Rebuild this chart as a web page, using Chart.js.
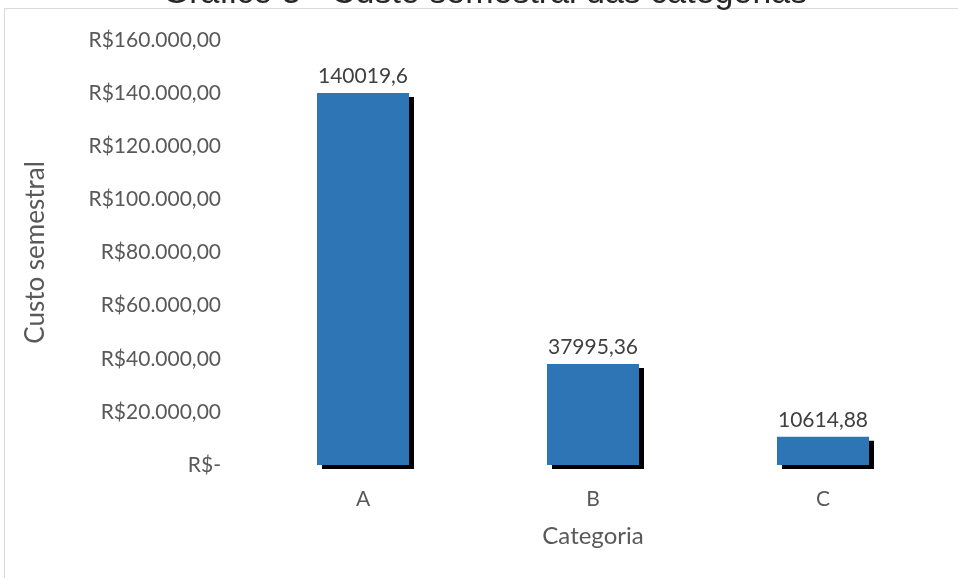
<!DOCTYPE html>
<html>
<head>
<meta charset="utf-8">
<script src="https://cdn.jsdelivr.net/npm/chart.js@4/dist/chart.umd.min.js"></script>
<style>
  html, body { margin: 0; padding: 0; background: #fff; }
  #wrap { width: 958px; height: 578px; }
</style>
</head>
<body>
<div id="wrap"><canvas id="c" width="958" height="578"></canvas></div>
<script>
// Custo semestral por categoria
const categorias = ['A', 'B', 'C'];
const custoSemestral = [140019.6, 37995.36, 10614.88];
const tickValores = [0, 20000, 40000, 60000, 80000, 100000, 120000, 140000, 160000];
const tickRotulos = ['R$-', 'R$20.000,00', 'R$40.000,00', 'R$60.000,00', 'R$80.000,00',
                     'R$100.000,00', 'R$120.000,00', 'R$140.000,00', 'R$160.000,00'];
const tituloGrafico = 'Gráfico 3 - Custo semestral das categorias';

const cinza = '#595959';
const fonteBase = 'Lato, "Open Sans", sans-serif';

// Moldura e título do gráfico
const moldura = {
  id: 'moldura',
  beforeDraw(chart) {
    const ctx = chart.ctx;
    ctx.save();
    ctx.fillStyle = '#fff';
    ctx.fillRect(0, 0, chart.width, chart.height);
    ctx.strokeStyle = '#d9d9d9';
    ctx.lineWidth = 1;
    ctx.strokeRect(4.5, 8.5, chart.width + 20, chart.height + 20);
    ctx.fillStyle = '#262626';
    ctx.font = '34px "Liberation Sans", Arial, sans-serif';
    ctx.textAlign = 'center';
    ctx.textBaseline = 'alphabetic';
    ctx.fillText(tituloGrafico, 485, 3);
    ctx.restore();
  }
};

// Sombra preta sob as barras
const sombra = {
  id: 'sombra',
  beforeDatasetDraw(chart) {
    const ctx = chart.ctx;
    ctx.save();
    ctx.shadowColor = '#000';
    ctx.shadowOffsetX = 5;
    ctx.shadowOffsetY = 4;
    ctx.shadowBlur = 0;
  },
  afterDatasetDraw(chart) {
    chart.ctx.restore();
  }
};

// Rótulos de valor acima das barras
const rotulos = {
  id: 'rotulos',
  afterDatasetsDraw(chart) {
    const ctx = chart.ctx;
    const meta = chart.getDatasetMeta(0);
    ctx.save();
    ctx.fillStyle = '#404040';
    ctx.font = '21px ' + fonteBase;
    ctx.textAlign = 'center';
    ctx.textBaseline = 'middle';
    meta.data.forEach((bar, i) => {
      const txt = String(custoSemestral[i]).replace('.', ',');
      ctx.fillText(txt, bar.x, bar.y - 17);
    });
    ctx.restore();
  }
};

new Chart(document.getElementById('c'), {
  type: 'bar',
  data: {
    labels: categorias,
    datasets: [{
      data: custoSemestral,
      backgroundColor: '#2E75B6',
      borderWidth: 0,
      categoryPercentage: 1,
      barPercentage: 0.4,
      clip: false
    }]
  },
  options: {
    responsive: false,
    animation: false,
    events: [],
    layout: { padding: { top: 40, left: 0, right: 20, bottom: 0 } },
    plugins: {
      legend: { display: false },
      title: { display: false },
      tooltip: { enabled: false }
    },
    scales: {
      x: {
        grid: { display: false, drawTicks: false },
        border: { display: false },
        ticks: { color: cinza, font: { family: fonteBase, size: 21 }, padding: 22 },
        title: {
          display: true, text: 'Categoria', color: cinza,
          font: { family: fonteBase, size: 24 }, padding: { top: 0, bottom: 27 }
        },
        afterFit(scale) { scale.height = 113; }
      },
      y: {
        min: 0, max: 160000,
        grid: { display: false, drawTicks: false },
        border: { display: false },
        afterBuildTicks(scale) { scale.ticks = tickValores.map(v => ({ value: v })); },
        ticks: {
          color: cinza, font: { family: fonteBase, size: 21 }, padding: 27,
          callback: (v) => tickRotulos[tickValores.indexOf(v)]
        },
        title: {
          display: true, text: 'Custo semestral', color: cinza,
          font: { family: fonteBase, size: 26 }, padding: { top: 20, bottom: 0 }
        },
        afterFit(scale) { scale.width = 248; }
      }
    }
  },
  plugins: [moldura, sombra, rotulos]
});
</script>
</body>
</html>
